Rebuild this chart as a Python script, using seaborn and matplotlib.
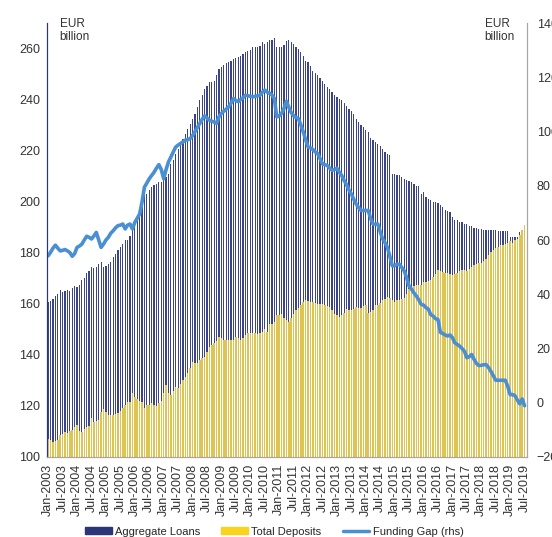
import numpy as np
import pandas as pd
import matplotlib
matplotlib.use("Agg")
import matplotlib.pyplot as plt
import seaborn as sns
from matplotlib.patches import Patch
from matplotlib.lines import Line2D

# monthly data, Jan-2003 .. Jul-2019 (EUR billion)
loans = [
    160.8, 161.2, 162.0, 163.0, 164.0, 165.5, 164.8, 165.2, 165.6, 165.0, 166.2, 166.9,
    166.6, 167.5, 169.2, 170.2, 171.9, 172.8, 174.5, 174.2, 174.4, 175.5, 176.4, 174.5,
    174.9, 175.8, 176.5, 178.4, 179.5, 181.0, 182.3, 183.6, 184.9, 185.2, 186.5, 188.8,
    190.0, 192.7, 194.0, 197.9, 202.5, 203.0, 204.5, 205.8, 206.5, 207.0, 207.7, 207.7,
    208.5, 209.7, 211.0, 214.9, 216.5, 218.8, 220.5, 222.7, 224.5, 226.6, 228.5, 230.5,
    232.5, 234.5, 237.0, 239.7, 242.0, 244.2, 245.5, 246.8, 247.0, 247.5, 249.8, 252.0,
    252.7, 253.5, 254.2, 254.7, 255.3, 256.0, 256.2, 256.8, 257.3, 258.0, 258.6, 259.0,
    259.6, 260.6, 260.6, 260.8, 261.2, 262.5, 262.0, 262.5, 263.4, 263.2, 264.2, 260.6,
    260.6, 260.6, 261.5, 263.1, 263.2, 262.5, 261.8, 260.6, 260.0, 258.6, 257.0, 255.3,
    254.7, 253.0, 251.4, 250.5, 249.5, 248.5, 247.5, 246.2, 244.9, 244.0, 243.0, 241.8,
    240.9, 240.3, 239.7, 238.7, 237.7, 236.5, 235.5, 234.5, 232.5, 231.2, 230.2, 229.2,
    228.3, 227.3, 225.0, 224.0, 223.4, 222.5, 221.8, 220.8, 219.5, 218.8, 218.2, 211.0,
    210.8, 210.3, 210.3, 209.7, 209.0, 208.6, 208.2, 207.7, 207.1, 206.0, 206.0, 203.2,
    203.8, 202.0, 201.2, 200.8, 200.0, 199.9, 199.5, 198.6, 198.0, 196.9, 196.4, 196.0,
    194.0, 192.7, 192.7, 192.1, 192.0, 191.4, 191.4, 190.6, 190.4, 189.9, 189.6, 189.4,
    189.3, 189.0, 189.0, 189.0, 188.9, 188.8, 188.8, 188.5, 188.5, 188.5, 188.4, 188.4,
    186.2, 186.2, 186.2, 186.2, 188.0, 189.0, 189.5,
]
deposits = [
    107.0, 106.5, 106.0, 106.2, 106.7, 108.6, 109.2, 109.9, 109.3, 110.0, 110.6, 111.9,
    112.5, 110.3, 109.9, 111.0, 111.9, 112.0, 115.1, 113.8, 114.2, 114.5, 117.7, 118.7,
    117.5, 116.4, 116.4, 116.4, 116.7, 117.3, 118.0, 119.0, 120.5, 121.4, 121.6, 125.2,
    123.5, 122.6, 121.8, 121.6, 119.0, 120.3, 120.3, 121.0, 120.3, 120.0, 121.0, 122.0,
    124.9, 128.2, 124.9, 124.3, 126.0, 127.3, 127.0, 128.5, 130.1, 131.4, 133.0, 134.7,
    137.3, 137.0, 136.7, 138.0, 138.6, 139.2, 141.0, 143.2, 143.8, 144.5, 145.5, 147.1,
    146.5, 146.0, 145.8, 145.8, 146.0, 146.0, 147.0, 146.5, 145.8, 146.8, 147.7, 148.4,
    148.4, 148.4, 148.4, 148.0, 148.5, 149.0, 150.0, 149.0, 152.3, 152.3, 152.9, 155.5,
    155.7, 155.9, 154.5, 153.6, 152.9, 154.5, 156.2, 157.5, 158.5, 159.5, 160.8, 161.7,
    161.3, 160.8, 160.8, 160.2, 159.9, 160.0, 159.8, 159.5, 159.0, 158.8, 157.5, 155.9,
    155.5, 154.9, 155.5, 156.5, 157.8, 157.5, 157.5, 158.0, 158.8, 158.5, 158.5, 159.0,
    159.5, 156.5, 157.0, 157.5, 159.5, 159.5, 160.5, 161.4, 162.0, 162.5, 162.2, 161.5,
    160.8, 161.4, 161.4, 161.8, 162.1, 164.0, 166.0, 166.6, 167.0, 167.3, 167.3, 167.3,
    168.6, 168.6, 169.0, 169.5, 170.5, 171.8, 173.2, 172.8, 172.5, 172.2, 171.9, 171.5,
    171.2, 171.5, 172.0, 172.8, 173.4, 173.2, 173.0, 173.8, 174.5, 175.2, 175.8, 176.0,
    176.0, 176.8, 177.7, 179.0, 180.3, 181.0, 181.7, 182.3, 182.9, 183.2, 183.6, 184.0,
    184.5, 183.8, 185.0, 185.6, 186.9, 188.8, 190.8,
]
funding_gap = [
    54.2, 55.5, 57.0, 58.1, 57.0, 56.0, 56.2, 56.5, 56.0, 55.4, 54.0, 55.0,
    57.3, 57.8, 58.5, 60.0, 61.4, 61.0, 60.4, 61.5, 62.8, 60.0, 57.3, 58.5,
    60.0, 61.0, 62.5, 63.4, 64.5, 65.3, 65.5, 65.9, 64.1, 65.5, 65.9, 64.1,
    66.5, 68.0, 69.6, 74.0, 79.5, 81.0, 82.6, 83.8, 85.0, 86.5, 87.8, 86.0,
    82.6, 86.0, 88.8, 90.6, 92.5, 94.3, 95.0, 95.6, 96.2, 96.8, 97.0, 97.4,
    98.5, 99.9, 101.5, 103.0, 104.5, 105.8, 105.0, 104.2, 103.8, 103.5, 103.0, 105.5,
    106.7, 107.5, 108.3, 109.1, 110.5, 112.2, 111.5, 111.0, 111.8, 112.5, 113.4, 113.2,
    113.0, 112.8, 113.0, 113.2, 113.4, 114.5, 115.3, 114.5, 114.1, 113.5, 112.2, 105.4,
    105.8, 106.7, 108.5, 111.2, 109.0, 107.0, 105.8, 105.2, 104.8, 102.5, 99.9, 97.0,
    94.3, 94.0, 93.4, 92.5, 91.9, 90.0, 88.1, 87.8, 87.5, 86.5, 85.7, 86.0,
    86.5, 85.0, 83.8, 82.0, 80.4, 78.5, 77.0, 75.0, 73.3, 72.0, 70.9, 70.9,
    70.9, 70.9, 68.0, 65.9, 65.9, 65.9, 63.0, 60.4, 59.0, 57.3, 54.0, 50.5,
    50.5, 51.1, 51.0, 49.8, 48.6, 46.0, 43.0, 41.9, 40.5, 39.4, 38.0, 36.3,
    36.0, 35.1, 34.5, 32.5, 32.0, 31.0, 30.7, 26.0, 25.5, 25.0, 24.6, 25.0,
    24.0, 22.1, 21.5, 20.9, 20.0, 19.0, 16.6, 17.0, 17.8, 16.0, 14.5, 13.7,
    13.8, 14.0, 14.1, 13.0, 11.6, 10.0, 8.3, 8.3, 8.3, 8.3, 8.3, 6.0,
    3.0, 3.0, 2.6, 1.0, -0.4, 1.4, -1.1,
]
months = np.arange(len(loans))
tick_pos = months[::6]
tick_labels = [("Jan" if m % 12 == 0 else "Jul") + "-" + str(2003 + m // 12) for m in tick_pos]

navy = "#2b3679"
bar_navy = "#3a4486"
yellow = "#f9d31c"
bar_yellow = "#dec452"
line_col = "#4a8fd2"

sns.set_style("white")
plt.rcParams["font.family"] = ["Liberation Sans", "DejaVu Sans"]

fig = plt.figure(figsize=(5.52, 5.37), dpi=100)
ax = fig.add_axes([0.0851, 0.149, 0.8696, 0.808])

sns.barplot(x=months, y=loans, native_scale=True, width=0.5, color=bar_navy,
            saturation=1, errorbar=None, linewidth=0, ax=ax)
sns.barplot(x=months, y=deposits, native_scale=True, width=0.62, color=bar_yellow,
            saturation=1, errorbar=None, linewidth=0, ax=ax)
ax.set_ylim(100, 270)
ax.set_xlim(-0.5, 199)
ax.set_yticks(range(100, 261, 20))
ax.set_xticks(tick_pos)
ax.set_xticklabels(tick_labels, rotation=90)
ax.set_xlabel("")
ax.set_ylabel("")
ax.tick_params(length=0, labelsize=9, colors="#333333", pad=5)

ax2 = ax.twinx()
sns.lineplot(x=months, y=funding_gap, color=line_col, linewidth=2.6, ax=ax2)
ax2.set_ylim(-20, 140)
ax2.set_yticks(range(-20, 141, 20))
ax2.set_ylabel("")
ax2.tick_params(length=0, labelsize=9, colors="#333333", pad=7)

for a in (ax, ax2):
    a.spines["top"].set_visible(False)
    a.spines["left"].set_color(navy)
    a.spines["right"].set_color("#a6a6a6")
    a.spines["bottom"].set_color("#a6a6a6")

fig.text(0.108, 0.966, "EUR\nbillion", fontsize=8.5, color="#333333", va="top", ha="left", linespacing=1.1)
fig.text(0.878, 0.966, "EUR\nbillion", fontsize=8.5, color="#333333", va="top", ha="left", linespacing=1.1)

handles = [Patch(color=navy), Patch(color=yellow), Line2D([0], [0], color=line_col, lw=2.5)]
fig.legend(handles, ["Aggregate Loans", "Total Deposits", "Funding Gap (rhs)"],
           loc="lower center", bbox_to_anchor=(0.497, -0.018), ncol=3, frameon=False,
           fontsize=8, handlelength=2.4, handleheight=0.55, handletextpad=0.3,
           columnspacing=1.9)

fig.savefig("out.png", dpi=100)
